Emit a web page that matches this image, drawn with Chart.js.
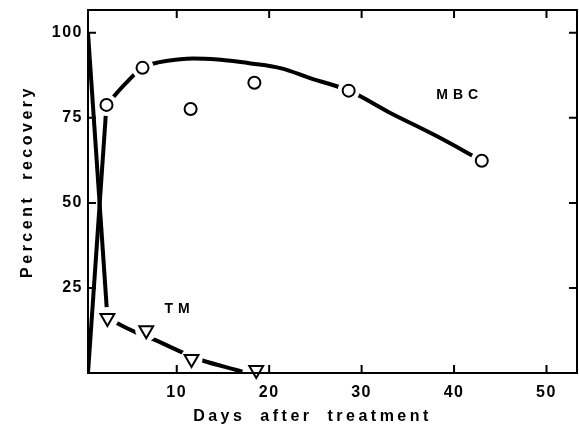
<!DOCTYPE html>
<html>
<head>
<meta charset="utf-8">
<script src="https://cdn.jsdelivr.net/npm/chart.js@4.4.1/dist/chart.umd.min.js"></script>
<style>
  html, body { margin: 0; padding: 0; background: #fff; }
  canvas { display: block; }
</style>
</head>
<body>
<canvas id="chart" width="579" height="427"></canvas>
<script>
const mbcDays = [2.4, 6.3, 11.5, 18.4, 28.6, 43];
const mbcValues = [78.8, 89.7, 77.6, 85.3, 83, 62.4];
const tmDays = [2.5, 6.7, 11.6, 18.6];
const tmValues = [16.2, 12.6, 4.1, 0.9];

// hand drawn curves
const mbcRiseDays = [0.4, 2.4];
const mbcRiseValues = [0, 78.8];
const mbcFitDays = [2.4, 4.5, 6.3, 8, 11.1, 15, 18, 21.2, 24.5, 28.6, 33, 38, 43];
const mbcFitValues = [78.8, 85.2, 89.7, 91.3, 92.4, 92, 91, 89.6, 86.6, 83, 76.6, 69.8, 62.4];
const tmDropDays = [0.4, 2.5];
const tmDropValues = [100, 16.2];
const tmFitDays = [2.5, 3.3, 5.7, 7.1, 10.7, 12.5, 17.1];
const tmFitValues = [16.5, 15, 11.8, 10.4, 5.9, 3.9, 0.4];

// series names written on the plot
const seriesNames = ['MBC', 'TM'];
const nameDays = [40.4, 10.1];
const nameValues = [81.8, 18.9];

const xTicks = [10, 20, 30, 40, 50];
const yTicks = [25, 50, 75, 100];

const FONT = 'Liberation Sans';
const pts = (xs, ys) => xs.map((x, i) => ({ x, y: ys[i] }));

const line = (xs, ys, tension) => ({
    data: pts(xs, ys),
    showLine: true,
    borderColor: '#000',
    borderWidth: 4,
    pointRadius: 0,
    tension,
    order: 3
});

// no extra room for labels at the ends of the axes
const noPad = s => { s.paddingLeft = s.paddingRight = s.paddingTop = s.paddingBottom = 0; };

// axis titles sit a little off centre in the original
const titleShift = { x: [-20, 0], y: [0, -10] };

// frame with inward ticks, spacing for text, series names
const frame = {
    id: 'frame',
    beforeDraw(chart) {
        chart.ctx.letterSpacing = '1.5px';
    },
    afterUpdate(chart) {
        Object.values(chart.scales).forEach(s => {
            if (s._spaced) return;
            const draw = s.drawTitle.bind(s);
            const shift = titleShift[s.id] || [0, 0];
            s.drawTitle = () => {
                const c = s.ctx;
                c.save();
                c.letterSpacing = '3.5px';
                c.wordSpacing = '7px';
                c.translate(shift[0], shift[1]);
                draw();
                c.restore();
            };
            s._spaced = true;
        });
    },
    afterDatasetsDraw(chart) {
        const { ctx, chartArea: a, scales: { x, y } } = chart;
        ctx.save();
        ctx.strokeStyle = '#000';
        ctx.lineWidth = 2;
        ctx.strokeRect(a.left, a.top, a.right - a.left, a.bottom - a.top);
        const len = 8;
        ctx.beginPath();
        x.ticks.forEach(t => {
            const px = x.getPixelForValue(t.value);
            ctx.moveTo(px, a.bottom); ctx.lineTo(px, a.bottom - len);
            ctx.moveTo(px, a.top); ctx.lineTo(px, a.top + len);
        });
        y.ticks.forEach(t => {
            const py = y.getPixelForValue(t.value);
            ctx.moveTo(a.left, py); ctx.lineTo(a.left + len, py);
            ctx.moveTo(a.right, py); ctx.lineTo(a.right - len, py);
        });
        ctx.stroke();

        ctx.letterSpacing = '5px';
        ctx.font = 'bold 14px "' + FONT + '"';
        ctx.fillStyle = '#000';
        ctx.textAlign = 'center';
        ctx.textBaseline = 'middle';
        seriesNames.forEach((n, i) => {
            ctx.fillText(n, x.getPixelForValue(nameDays[i]) + 2, y.getPixelForValue(nameValues[i]));
        });
        ctx.restore();
    }
};

const tickFont = { family: FONT, size: 16, weight: 'bold' };
const titleFont = { family: FONT, size: 16, weight: 'bold' };

new Chart(document.getElementById('chart'), {
    type: 'scatter',
    data: {
        datasets: [
            line(mbcRiseDays, mbcRiseValues, 0),
            line(mbcFitDays, mbcFitValues, 0.4),
            line(tmDropDays, tmDropValues, 0),
            line(tmFitDays, tmFitValues, 0.4),
            {
                // white gaps where the curves meet the symbols
                data: pts(mbcDays, mbcValues).concat(pts(tmDays.slice(0, 3), tmValues.slice(0, 3))),
                pointRadius: 11,
                pointBackgroundColor: '#fff',
                pointBorderWidth: 0,
                order: 2
            },
            {
                data: pts(mbcDays, mbcValues),
                pointStyle: 'circle',
                pointRadius: 6,
                pointBorderWidth: 2,
                pointBorderColor: '#000',
                pointBackgroundColor: '#fff',
                order: 1
            },
            {
                data: pts(tmDays, tmValues),
                pointStyle: 'triangle',
                rotation: 180,
                pointRadius: 8,
                pointBorderWidth: 2,
                pointBorderColor: '#000',
                pointBackgroundColor: '#fff',
                clip: false,
                order: 1
            }
        ]
    },
    options: {
        responsive: false,
        animation: false,
        layout: { autoPadding: false, padding: { top: 10, right: 2, left: 0, bottom: 0 } },
        plugins: { legend: { display: false }, tooltip: { enabled: false } },
        scales: {
            x: {
                type: 'linear',
                min: 0.4,
                max: 53.3,
                afterBuildTicks: s => { s.ticks = xTicks.map(v => ({ value: v })); },
                afterFit: s => { s.height = 54; noPad(s); },
                grid: { display: false, drawTicks: false },
                border: { display: false },
                ticks: { color: '#000', font: tickFont, padding: 10, maxRotation: 0 },
                title: {
                    display: true,
                    text: 'Days after treatment',
                    color: '#000',
                    font: titleFont,
                    padding: { top: 0, bottom: 1 }
                }
            },
            y: {
                min: 0,
                max: 106.7,
                afterBuildTicks: s => { s.ticks = yTicks.map(v => ({ value: v })); },
                afterFit: s => { s.width = 88; noPad(s); },
                grid: { display: false, drawTicks: false },
                border: { display: false },
                ticks: { color: '#000', font: tickFont, padding: 5 },
                title: {
                    display: true,
                    text: 'Percent recovery',
                    color: '#000',
                    font: titleFont,
                    padding: { top: 18, bottom: 0 }
                }
            }
        }
    },
    plugins: [frame]
});
</script>
</body>
</html>
